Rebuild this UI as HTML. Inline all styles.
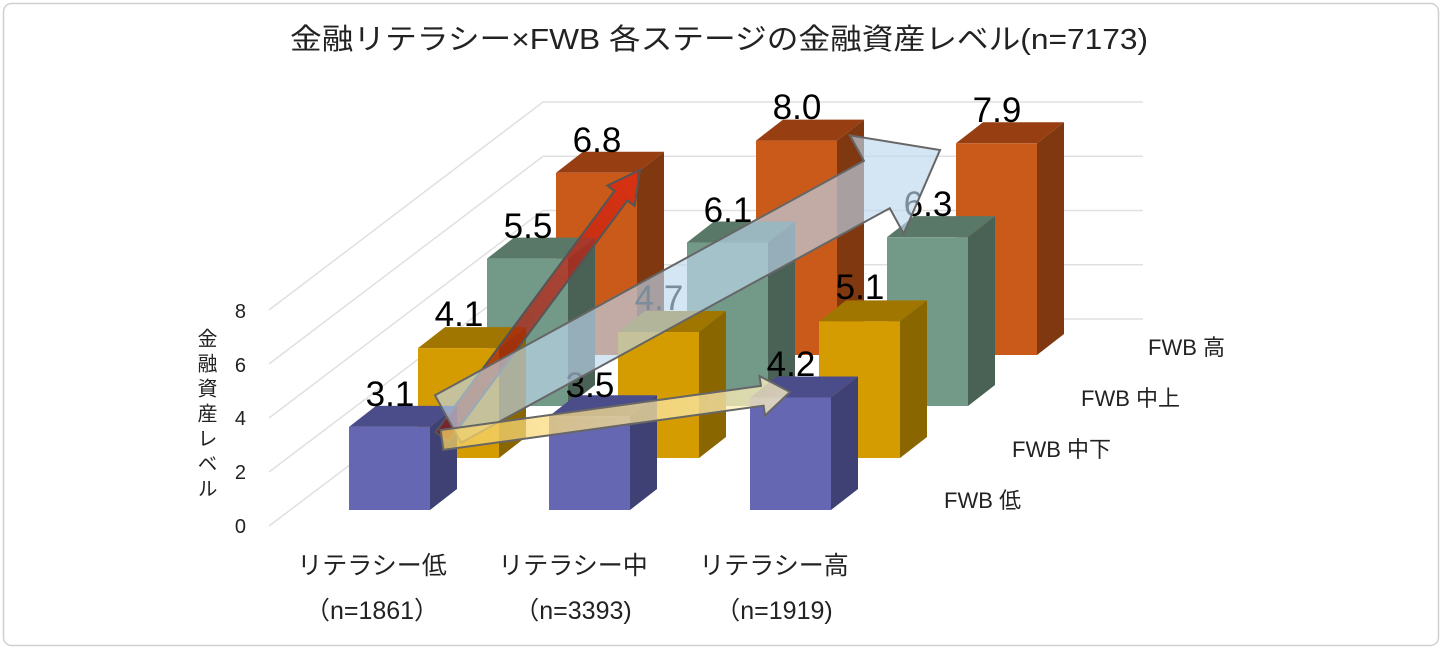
<!DOCTYPE html>
<html><head><meta charset="utf-8"><style>
html,body{margin:0;padding:0;background:#fff;}
svg{display:block;font-family:"Liberation Sans","Noto Sans CJK JP",sans-serif;}
</style></head><body>
<svg id="s" width="1442" height="650" viewBox="0 0 1442 650" xmlns="http://www.w3.org/2000/svg">
<defs>
<linearGradient id="rg" x1="0" y1="1" x2="1" y2="0"><stop offset="0" stop-color="#8a1a10"/><stop offset="1" stop-color="#e02010"/></linearGradient>
<linearGradient id="yg" x1="0" y1="0" x2="1" y2="0"><stop offset="0" stop-color="#f5d060"/><stop offset="1" stop-color="#fff4c8"/></linearGradient>
</defs>
<rect x="3.5" y="3.5" width="1435" height="642" rx="8" fill="#fff" stroke="#d0d0d0" stroke-width="1.5"/>
<text x="719" y="49" font-size="29" text-anchor="middle" fill="#222" textLength="858" lengthAdjust="spacingAndGlyphs">金融リテラシー×FWB 各ステージの金融資産レベル(n=7173)</text>
<g id="grid" stroke="#e0e0e0" stroke-width="1.5" fill="none"></g>
<g id="bars"></g>
<g font-size="35" fill="#000" text-anchor="middle">
<text x="390" y="406">3.1</text><text x="590" y="397">3.5</text><text x="791" y="376">4.2</text>
<text x="459" y="326">4.1</text><text x="659" y="310">4.7</text><text x="860" y="299">5.1</text>
<text x="528" y="238">5.5</text><text x="728" y="222">6.1</text><text x="928" y="216">6.3</text>
<text x="597" y="152">6.8</text><text x="797" y="119">8.0</text><text x="997" y="122">7.9</text>
</g>
<g id="arrows"></g>
<g font-size="20" fill="#222" text-anchor="end">
<text x="246" y="318">8</text><text x="246" y="372">6</text><text x="246" y="425">4</text><text x="246" y="479">2</text><text x="246" y="533">0</text>
</g>
<text x="205" y="328" font-size="20" fill="#222" style="writing-mode:vertical-rl;letter-spacing:5px">金融資産レベル</text>
<g font-size="22" fill="#222">
<text x="1148" y="355">FWB 高</text><text x="1081" y="406">FWB 中上</text><text x="1012" y="457">FWB 中下</text><text x="944" y="508">FWB 低</text>
</g>
<g font-size="25" fill="#222" text-anchor="middle">
<text x="372" y="574">リテラシー低</text><text x="372" y="619">（n=1861）</text>
<text x="573" y="574">リテラシー中</text><text x="573" y="619">（n=3393)</text>
<text x="774" y="574">リテラシー高</text><text x="774" y="619">（n=1919)</text>
</g>
</svg>
<script>
var NS="http://www.w3.org/2000/svg";
function el(p,t,a){var e=document.createElementNS(NS,t);for(var k in a)e.setAttribute(k,a[k]);p.appendChild(e);return e;}
var g=document.getElementById('grid');
for(var i=0;i<5;i++){var fy=526-i*54,by=319-i*54.25;
el(g,'polyline',{points:"269,"+fy+" 543,"+by+" 1143,"+by});}
var B=document.getElementById('bars');
var rows=[
{b:355,x:[556,756,956],v:[6.8,8.0,7.9],f:"#c95a1a",s:"#7f3810",t:"#973f12"},
{b:406,x:[487,687,887],v:[5.5,6.1,6.3],f:"#739a88",s:"#4a6156",t:"#5a7868"},
{b:458,x:[418,618,819],v:[4.1,4.7,5.1],f:"#d49c00",s:"#8a6600",t:"#a07600"},
{b:510,x:[349,549,750],v:[3.1,3.5,4.2],f:"#6667b3",s:"#3f4175",t:"#4b4c8a"}];
var W=81,DX=27,DY=21,S=26.8;
rows.forEach(function(r){r.x.forEach(function(x,j){var top=r.b-r.v[j]*S;
el(B,'polygon',{points:(x+W)+","+top+" "+(x+W+DX)+","+(top-DY)+" "+(x+W+DX)+","+(r.b-DY)+" "+(x+W)+","+r.b,fill:r.s});
el(B,'polygon',{points:x+","+top+" "+(x+DX)+","+(top-DY)+" "+(x+W+DX)+","+(top-DY)+" "+(x+W)+","+top,fill:r.t});
el(B,'rect',{x:x,y:top,width:W,height:r.b-top,fill:r.f});});});
function arrow(x0,y0,x1,y1,hw,hh,hl,attrs){var dx=x1-x0,dy=y1-y0,L=Math.hypot(dx,dy);dx/=L;dy/=L;var nx=-dy,ny=dx;
var bx=x1-dx*hl,by=y1-dy*hl;
var p=[[x0+nx*hw,y0+ny*hw],[bx+nx*hw,by+ny*hw],[bx+nx*hh,by+ny*hh],[x1,y1],[bx-nx*hh,by-ny*hh],[bx-nx*hw,by-ny*hw],[x0-nx*hw,y0-ny*hw]];
attrs.points=p.map(function(q){return q[0].toFixed(1)+","+q[1].toFixed(1)}).join(" ");
el(document.getElementById('arrows'),'polygon',attrs);}
arrow(442,437,640,170,8,17,32,{fill:"url(#rg)","fill-opacity":0.7,stroke:"#555","stroke-width":2});
arrow(448,419,940,150,27,56,72,{fill:"#bdd7ee","fill-opacity":0.65,stroke:"#666","stroke-width":2});
arrow(442,440,790,392,10,20,28,{fill:"url(#yg)","fill-opacity":0.75,stroke:"#666","stroke-width":2});
</script>
</body></html>
